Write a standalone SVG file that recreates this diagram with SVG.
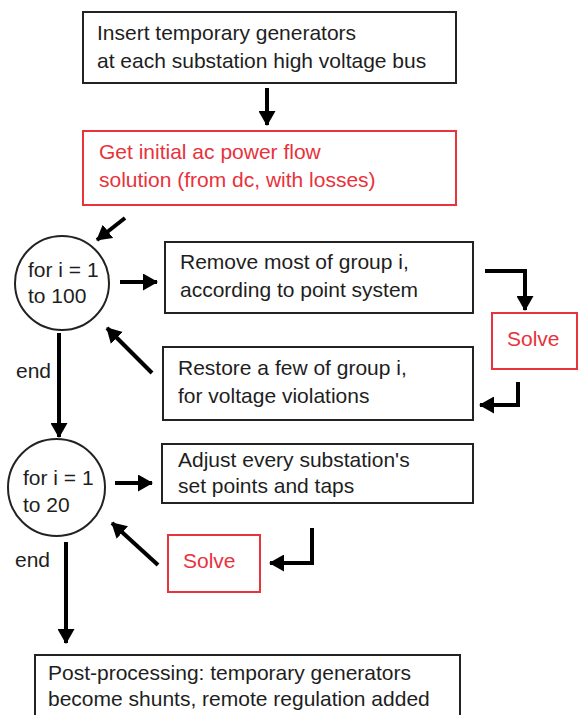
<svg xmlns="http://www.w3.org/2000/svg" width="580" height="715" viewBox="0 0 580 715">
<defs>
<style>
.box{fill:#fff;stroke:#222;stroke-width:2}
.rbox{fill:#fff;stroke:#e8323c;stroke-width:2}
.t{font-family:"Liberation Sans",Arial,sans-serif;font-size:21px;fill:#1e1e1e}
.rt{font-family:"Liberation Sans",Arial,sans-serif;font-size:21px;fill:#e8323c}
.c{fill:#fff;stroke:#222;stroke-width:2}
.a{fill:none;stroke:#000;stroke-width:4}
</style>
<marker id="ah" viewBox="0 0 15 17" refX="14" refY="8.5" markerWidth="15" markerHeight="17" markerUnits="userSpaceOnUse" orient="auto">
<path d="M0,0 L15,8.5 L0,17 z" fill="#000"/>
</marker>
</defs>
<rect width="580" height="715" fill="#fff"/>
<g id="box-insert">
<rect class="box" x="83" y="12" width="373" height="71"/>
<text class="t" x="97" y="40">Insert temporary generators</text>
<text class="t" x="97" y="68">at each substation high voltage bus</text>
</g>
<g id="box-initial">
<rect class="rbox" x="83" y="131" width="373" height="74"/>
<text class="rt" x="99" y="159">Get initial ac power flow</text>
<text class="rt" x="99" y="187">solution (from dc, with losses)</text>
</g>
<g id="loop1">
<circle class="c" cx="62" cy="283" r="47"/>
<text class="t" x="28" y="277">for i = 1</text>
<text class="t" x="28" y="303">to 100</text>
</g>
<g id="box-remove">
<rect class="box" x="165" y="242" width="308" height="71"/>
<text class="t" x="180" y="269">Remove most of group i,</text>
<text class="t" x="180" y="297">according to point system</text>
</g>
<g id="box-restore">
<rect class="box" x="163" y="347" width="310" height="73"/>
<text class="t" x="178" y="375">Restore a few of group i,</text>
<text class="t" x="178" y="403">for voltage violations</text>
</g>
<g id="solve1">
<rect class="rbox" x="492" y="313" width="85" height="56"/>
<text class="rt" x="507" y="346">Solve</text>
</g>
<g id="loop2">
<circle class="c" cx="56.5" cy="487.5" r="48.5"/>
<text class="t" x="23" y="485">for i = 1</text>
<text class="t" x="23" y="512">to 20</text>
</g>
<g id="box-adjust">
<rect class="box" x="162" y="444" width="311" height="59"/>
<text class="t" x="178" y="467">Adjust every substation's</text>
<text class="t" x="178" y="493">set points and taps</text>
</g>
<g id="solve2">
<rect class="rbox" x="168" y="535" width="92" height="57"/>
<text class="rt" x="183" y="568">Solve</text>
</g>
<g id="box-post">
<rect class="box" x="35" y="655" width="425" height="70"/>
<text class="t" x="48" y="680">Post-processing: temporary generators</text>
<text class="t" x="48" y="706">become shunts, remote regulation added</text>
</g>
<g id="connectors">
<path class="a" d="M267,88 L267,125" marker-end="url(#ah)"/>
<path class="a" d="M125,218 L97,240" marker-end="url(#ah)"/>
<path class="a" d="M120,282 L157,282" marker-end="url(#ah)"/>
<path class="a" d="M485,271 L525,271 L525,310" marker-end="url(#ah)"/>
<path class="a" d="M518,382 L518,405 L480,405" marker-end="url(#ah)"/>
<path class="a" d="M152,373 L107,328" marker-end="url(#ah)"/>
<path class="a" d="M59,333 L59,437" marker-end="url(#ah)"/>
<path class="a" d="M115,483 L152,483" marker-end="url(#ah)"/>
<path class="a" d="M312,528 L312,563 L270,563" marker-end="url(#ah)"/>
<path class="a" d="M158,565 L112,523" marker-end="url(#ah)"/>
<path class="a" d="M66,542 L66,643" marker-end="url(#ah)"/>
<text class="t" x="16" y="378">end</text>
<text class="t" x="15" y="567">end</text>
</g>
</svg>
